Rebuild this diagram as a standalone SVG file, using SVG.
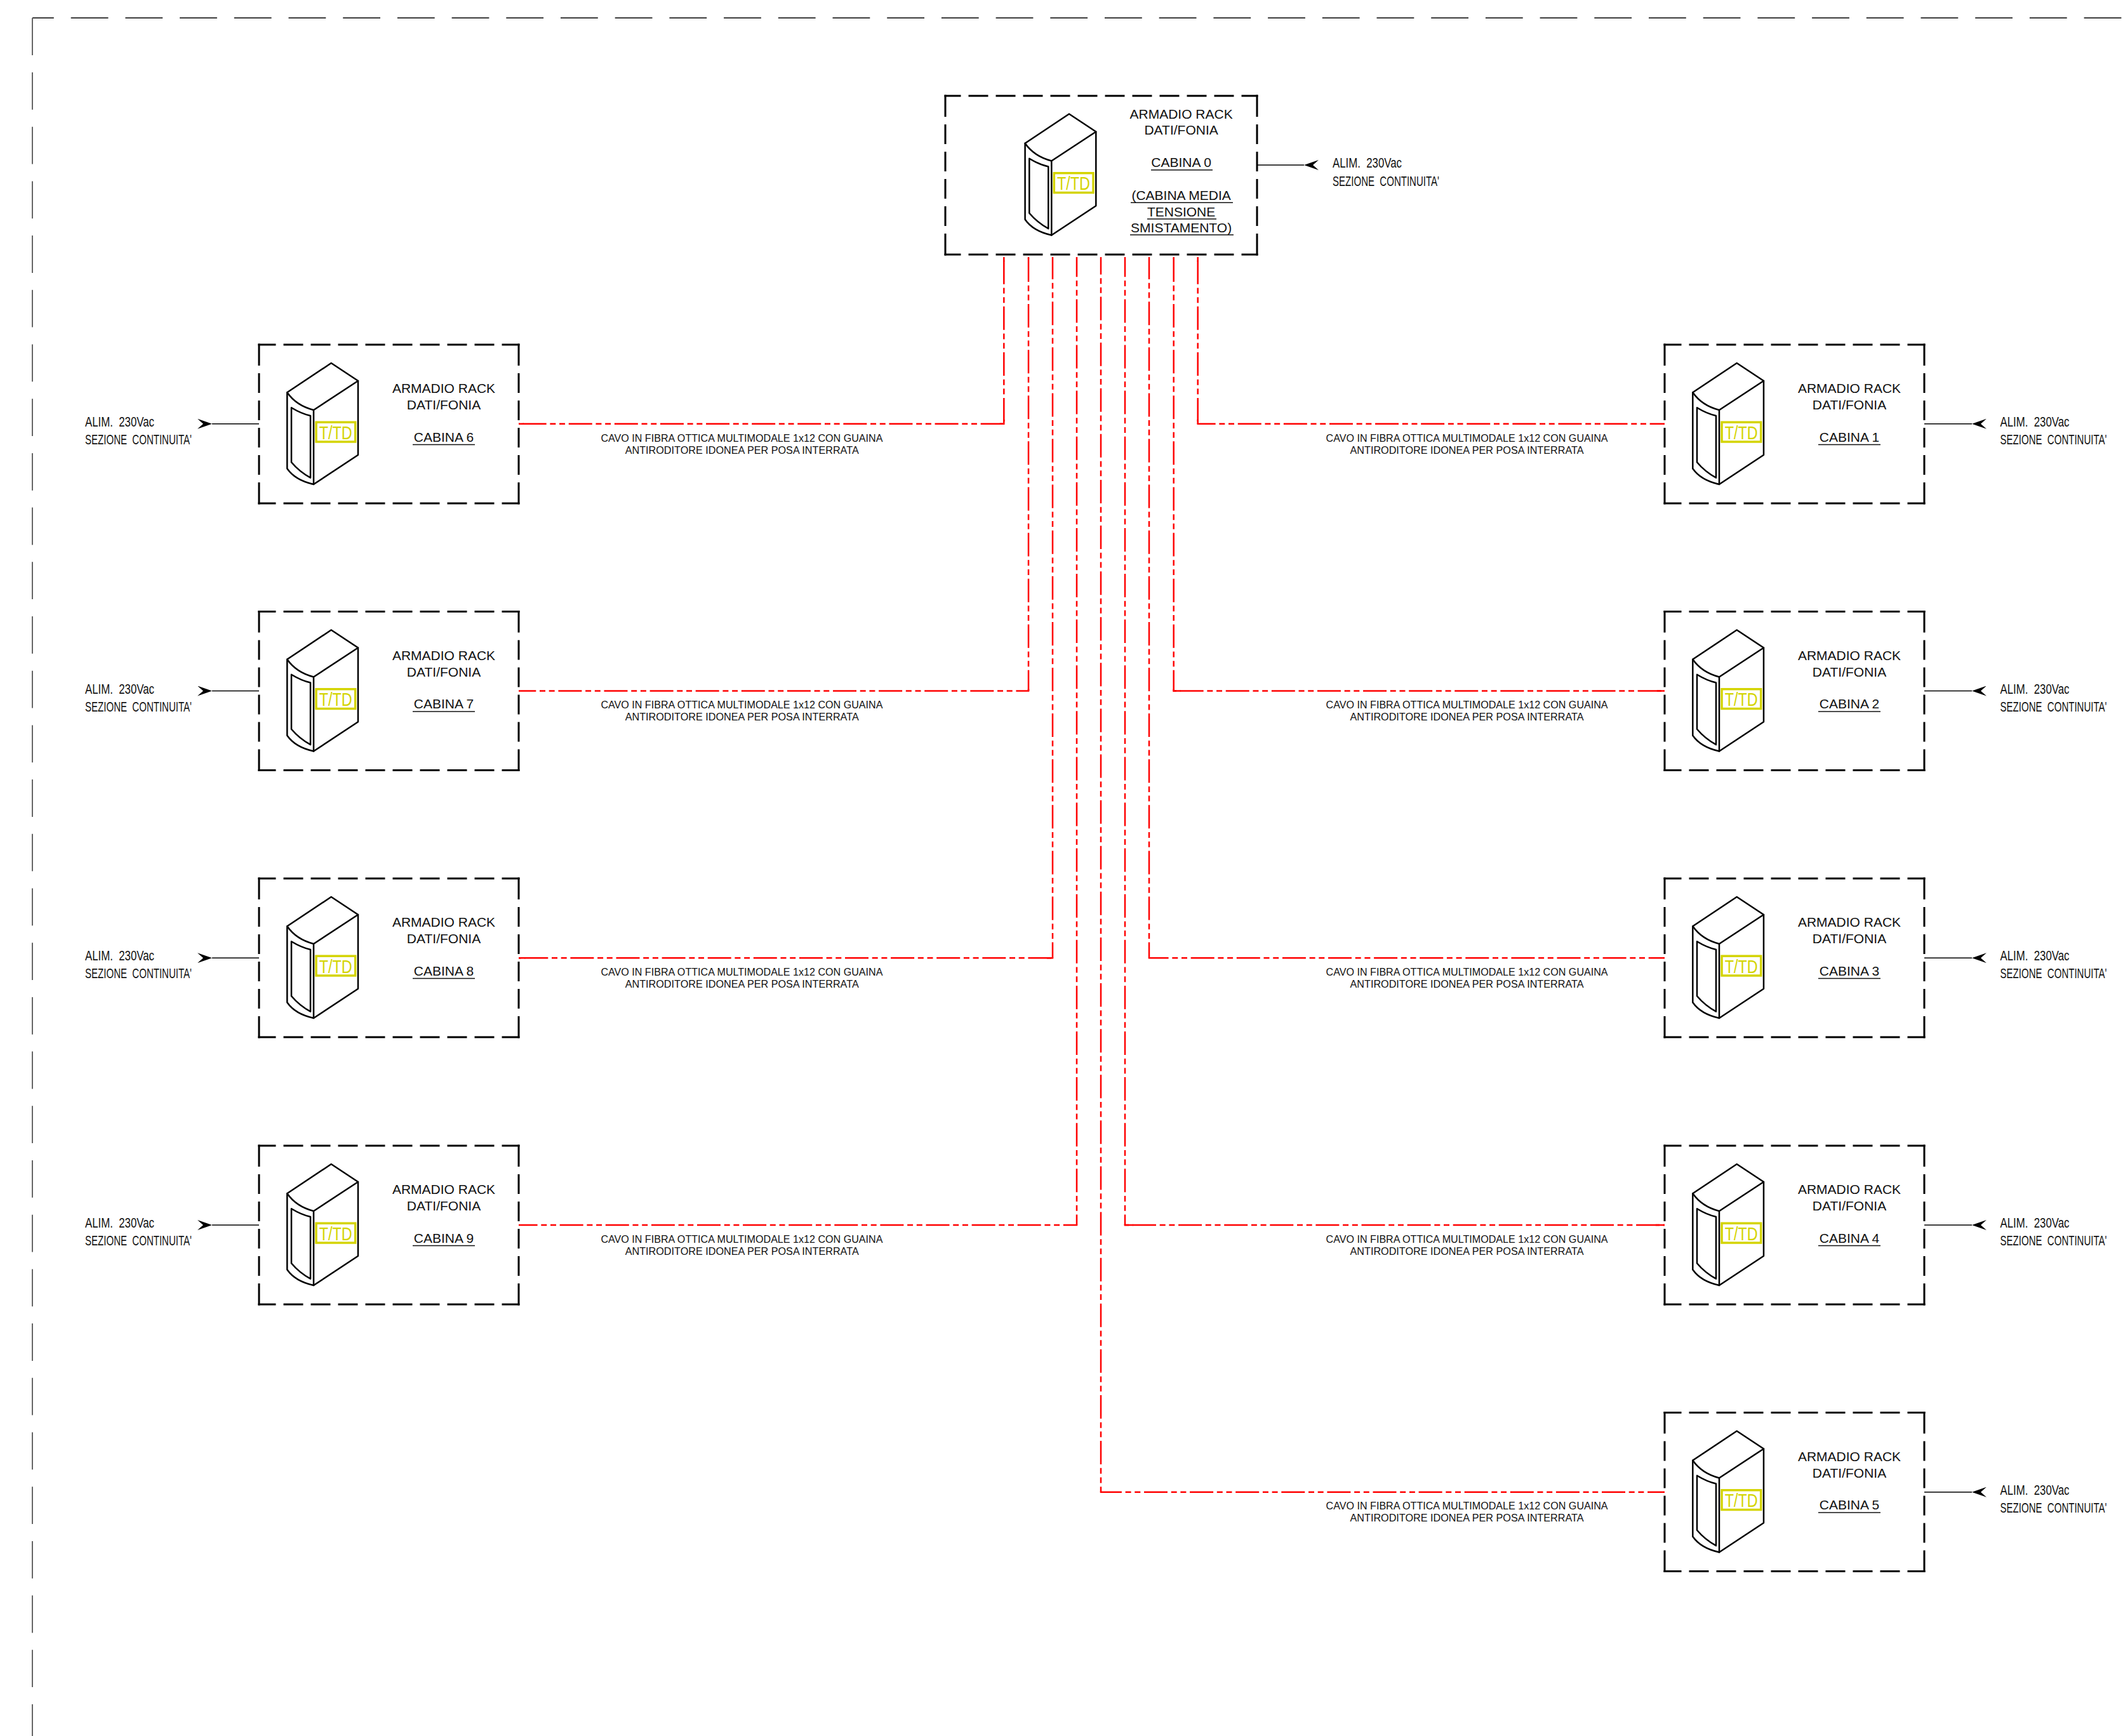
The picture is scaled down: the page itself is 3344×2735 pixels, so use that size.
<svg xmlns="http://www.w3.org/2000/svg" width="3344" height="2735" viewBox="0 0 3344 2735">
<style>
text{font-family:"Liberation Sans",Arial,sans-serif;fill:#111}
.lb{font-size:21px;text-anchor:middle}
.cad{font-family:"Liberation Sans Narrow","Liberation Sans",Arial,sans-serif;font-size:22px;word-spacing:6px}
.cable{font-size:16px}
.td{font-family:"Liberation Sans Narrow","Liberation Sans",Arial,sans-serif;font-size:30px;fill:#d4d400}
.ul{stroke:#111;stroke-width:1.5;fill:none}
.r{fill:none;stroke:#000;stroke-width:2.5;stroke-linejoin:round;stroke-linecap:round}
.dh{fill:none;stroke:#000;stroke-width:3;stroke-dasharray:28 12 31 12 31 12 31 12 31 12 31 12 31 12 31 12 31 12 28}
.dc{fill:none;stroke:#000;stroke-width:3;stroke-dasharray:26 12 31 12 31 12 31 12 31 12 31 12 31 12 31 12 31 12 31 12 31 12 26}
.dv{fill:none;stroke:#000;stroke-width:3;stroke-dasharray:34.5 12 31 12 31 12 31 12 31 12 34.5}
.fb{fill:none;stroke:#f00;stroke-width:2.5;stroke-dasharray:37 5.7 9 5.7 9 5.7}
.st{fill:none;stroke:#f00;stroke-width:2.5}
.pw{fill:none;stroke:#000;stroke-width:1.5;marker-start:url(#barb)}
</style>
<defs>
<marker id="barb" markerUnits="userSpaceOnUse" viewBox="0 0 24 16" refX="23" refY="8" markerWidth="24" markerHeight="16" orient="auto">
<path d="M23 8L0 0L9 8L0 16Z" fill="#000"/>
</marker>
<g id="rack">
<path class="r" d="M44.3 75.3L113.7 29L156 57L156 173.7L86 220Q57 213.7 44.3 195.3Z"/>
<path class="r" d="M44.3 75.3Q58.7 96 86 103L156 57M86 103V220"/>
<path class="r" d="M51 99.3Q67 109 81 112V209.7Q63.7 200.3 51 185.3Z"/>
<rect x="90" y="122.2" width="61.7" height="30.8" fill="none" stroke="#d4d400" stroke-width="3.5"/>
</g>
<path id="box" d="M-1.5 0H410.5M-1.5 250H410.5" class="dh"/>
<path id="boxv" d="M0 -1.5V251.5M409 -1.5V251.5" class="dv"/>
</defs>
<rect width="3344" height="2735" fill="#fff"/>

<g id="border">
<path d="M51 28.3H3344" fill="none" stroke="#000" stroke-width="1.5" stroke-dasharray="58.8 26.9" stroke-dashoffset="25"/>
<path d="M51 28.3V2735" fill="none" stroke="#666" stroke-width="2" stroke-dasharray="58.8 26.9"/>
</g>

<g id="connectors">
<g id="fibre-vertical">
<path class="fb" stroke-dashoffset="-5.75" d="M1581.3 405V667.7"/>
<path class="fb" stroke-dashoffset="-1.95" d="M1620 405V1088.5"/>
<path class="fb" stroke-dashoffset="1.9" d="M1658 405V1509.2"/>
<path class="fb" stroke-dashoffset="5.7" d="M1696 405V1930"/>
<path class="fb" stroke-dashoffset="9.55" d="M1734 405V2350.7"/>
<path class="fb" stroke-dashoffset="5.7" d="M1772 405V1930"/>
<path class="fb" stroke-dashoffset="1.9" d="M1810 405V1509.2"/>
<path class="fb" stroke-dashoffset="-1.95" d="M1848.7 405V1088.5"/>
<path class="fb" stroke-dashoffset="-5.75" d="M1886.7 405V667.7"/>
</g>
<g id="fibre-horizontal">
<path class="fb" stroke-dashoffset="-6.65" d="M817 667.7H1582.5"/>
<path class="fb" stroke-dashoffset="9.7" d="M817 1088.5H1621.2"/>
<path class="fb" stroke-dashoffset="-9.3" d="M817 1509.2H1659.2"/>
<path class="fb" stroke-dashoffset="7.4" d="M817 1930H1697.2"/>
<path class="fb" stroke-dashoffset="7.85" d="M1885.5 667.7H2622"/>
<path class="fb" stroke-dashoffset="-11.15" d="M1847.5 1088.5H2622"/>
<path class="fb" stroke-dashoffset="5.2" d="M1808.8 1509.2H2622"/>
<path class="fb" stroke-dashoffset="-13.2" d="M1770.8 1930H2622"/>
<path class="fb" stroke-dashoffset="2.9" d="M1732.8 2350.7H2622"/>
</g>
<path id="fibre-ends" class="st" d="M817 667.7h7.7M1582.5 667.7h-7.7M817 1509.2h10.3M1659.2 1509.2h-10.3M1847.5 1088.5h12.2M2622 1088.5h-12.2M1770.8 1930h14.2M2622 1930h-14.2M1581.3 405v6.8M1581.3 667.7v-6.8M1886.7 405v6.8M1886.7 667.7v-6.8M1620 405v3M1620 1088.5v-3M1848.7 405v3M1848.7 1088.5v-3"/>
<g id="power">
<path class="pw" d="M2054 260H1980"/>
<path class="pw" d="M334 667.7H408"/>
<path class="pw" d="M334 1088.5H408"/>
<path class="pw" d="M334 1509.2H408"/>
<path class="pw" d="M334 1930H408"/>
<path class="pw" d="M3106 667.7H3031"/>
<path class="pw" d="M3106 1088.5H3031"/>
<path class="pw" d="M3106 1509.2H3031"/>
<path class="pw" d="M3106 1930H3031"/>
<path class="pw" d="M3106 2350.7H3031"/>
</g>
<g id="cable-labels">
<text class="cable" x="946.4" y="695.5" textLength="444" lengthAdjust="spacingAndGlyphs">CAVO IN FIBRA OTTICA MULTIMODALE 1x12 CON GUAINA</text>
<text class="cable" x="984.7" y="714.8" textLength="368" lengthAdjust="spacingAndGlyphs">ANTIRODITORE IDONEA PER POSA INTERRATA</text>
<text class="cable" x="946.4" y="1116" textLength="444" lengthAdjust="spacingAndGlyphs">CAVO IN FIBRA OTTICA MULTIMODALE 1x12 CON GUAINA</text>
<text class="cable" x="984.7" y="1135.3" textLength="368" lengthAdjust="spacingAndGlyphs">ANTIRODITORE IDONEA PER POSA INTERRATA</text>
<text class="cable" x="946.4" y="1536.7" textLength="444" lengthAdjust="spacingAndGlyphs">CAVO IN FIBRA OTTICA MULTIMODALE 1x12 CON GUAINA</text>
<text class="cable" x="984.7" y="1556" textLength="368" lengthAdjust="spacingAndGlyphs">ANTIRODITORE IDONEA PER POSA INTERRATA</text>
<text class="cable" x="946.4" y="1957.5" textLength="444" lengthAdjust="spacingAndGlyphs">CAVO IN FIBRA OTTICA MULTIMODALE 1x12 CON GUAINA</text>
<text class="cable" x="984.7" y="1976.8" textLength="368" lengthAdjust="spacingAndGlyphs">ANTIRODITORE IDONEA PER POSA INTERRATA</text>
<text class="cable" x="2088.6" y="695.5" textLength="444" lengthAdjust="spacingAndGlyphs">CAVO IN FIBRA OTTICA MULTIMODALE 1x12 CON GUAINA</text>
<text class="cable" x="2126.5" y="714.8" textLength="368" lengthAdjust="spacingAndGlyphs">ANTIRODITORE IDONEA PER POSA INTERRATA</text>
<text class="cable" x="2088.6" y="1116" textLength="444" lengthAdjust="spacingAndGlyphs">CAVO IN FIBRA OTTICA MULTIMODALE 1x12 CON GUAINA</text>
<text class="cable" x="2126.5" y="1135.3" textLength="368" lengthAdjust="spacingAndGlyphs">ANTIRODITORE IDONEA PER POSA INTERRATA</text>
<text class="cable" x="2088.6" y="1536.7" textLength="444" lengthAdjust="spacingAndGlyphs">CAVO IN FIBRA OTTICA MULTIMODALE 1x12 CON GUAINA</text>
<text class="cable" x="2126.5" y="1556" textLength="368" lengthAdjust="spacingAndGlyphs">ANTIRODITORE IDONEA PER POSA INTERRATA</text>
<text class="cable" x="2088.6" y="1957.5" textLength="444" lengthAdjust="spacingAndGlyphs">CAVO IN FIBRA OTTICA MULTIMODALE 1x12 CON GUAINA</text>
<text class="cable" x="2126.5" y="1976.8" textLength="368" lengthAdjust="spacingAndGlyphs">ANTIRODITORE IDONEA PER POSA INTERRATA</text>
<text class="cable" x="2088.6" y="2378" textLength="444" lengthAdjust="spacingAndGlyphs">CAVO IN FIBRA OTTICA MULTIMODALE 1x12 CON GUAINA</text>
<text class="cable" x="2126.5" y="2397.3" textLength="368" lengthAdjust="spacingAndGlyphs">ANTIRODITORE IDONEA PER POSA INTERRATA</text>
</g>
</g>

<g id="cabina0" transform="translate(1489,150.5)">
<path class="dc" d="M-1.5 0.5H492.5M-1.5 250.5H492.5"/>
<path class="dv" d="M0 -1V252M491 -1V252"/>
<use href="#rack" x="81.3" y="0"/>
<text class="td" x="176" y="148.7" textLength="52" lengthAdjust="spacingAndGlyphs">T/TD</text>
<text class="lb" x="371.6" y="36.2">ARMADIO RACK</text>
<text class="lb" x="371.6" y="61.8">DATI/FONIA</text>
<text class="lb" x="371.6" y="112.8">CABINA 0</text>
<path class="ul" d="M324 117.2H421"/>
<text class="lb" x="371.6" y="164.5">(CABINA MEDIA</text>
<path class="ul" d="M292 168.8H453"/>
<text class="lb" x="371.6" y="190.2">TENSIONE</text>
<path class="ul" d="M318 194.5H427"/>
<text class="lb" x="371.6" y="215.5">SMISTAMENTO)</text>
<path class="ul" d="M291 219.5H454"/>
<text class="cad" x="610" y="113.5" textLength="109" lengthAdjust="spacingAndGlyphs">ALIM. 230Vac</text>
<text class="cad" x="610" y="142.2" textLength="168" lengthAdjust="spacingAndGlyphs">SEZIONE CONTINUITA'</text>
</g>

<g id="cabina1" transform="translate(2622,543)">
<use href="#box"/><use href="#boxv"/><use href="#rack"/>
<text class="td" x="94.7" y="148.7" textLength="52" lengthAdjust="spacingAndGlyphs">T/TD</text>
<text class="lb" x="291" y="76">ARMADIO RACK</text>
<text class="lb" x="291" y="102">DATI/FONIA</text>
<text class="lb" x="291" y="152.5">CABINA 1</text>
<path class="ul" d="M242 157.5H340"/>
<text class="cad" x="528.5" y="129" textLength="109" lengthAdjust="spacingAndGlyphs">ALIM. 230Vac</text>
<text class="cad" x="528.5" y="157" textLength="168" lengthAdjust="spacingAndGlyphs">SEZIONE CONTINUITA'</text>
</g>
<g id="cabina2" transform="translate(2622,963.5)">
<use href="#box"/><use href="#boxv"/><use href="#rack"/>
<text class="td" x="94.7" y="148.7" textLength="52" lengthAdjust="spacingAndGlyphs">T/TD</text>
<text class="lb" x="291" y="76">ARMADIO RACK</text>
<text class="lb" x="291" y="102">DATI/FONIA</text>
<text class="lb" x="291" y="152.5">CABINA 2</text>
<path class="ul" d="M242 157.5H340"/>
<text class="cad" x="528.5" y="129" textLength="109" lengthAdjust="spacingAndGlyphs">ALIM. 230Vac</text>
<text class="cad" x="528.5" y="157" textLength="168" lengthAdjust="spacingAndGlyphs">SEZIONE CONTINUITA'</text>
</g>
<g id="cabina3" transform="translate(2622,1384)">
<use href="#box"/><use href="#boxv"/><use href="#rack"/>
<text class="td" x="94.7" y="148.7" textLength="52" lengthAdjust="spacingAndGlyphs">T/TD</text>
<text class="lb" x="291" y="76">ARMADIO RACK</text>
<text class="lb" x="291" y="102">DATI/FONIA</text>
<text class="lb" x="291" y="152.5">CABINA 3</text>
<path class="ul" d="M242 157.5H340"/>
<text class="cad" x="528.5" y="129" textLength="109" lengthAdjust="spacingAndGlyphs">ALIM. 230Vac</text>
<text class="cad" x="528.5" y="157" textLength="168" lengthAdjust="spacingAndGlyphs">SEZIONE CONTINUITA'</text>
</g>
<g id="cabina4" transform="translate(2622,1805)">
<use href="#box"/><use href="#boxv"/><use href="#rack"/>
<text class="td" x="94.7" y="148.7" textLength="52" lengthAdjust="spacingAndGlyphs">T/TD</text>
<text class="lb" x="291" y="76">ARMADIO RACK</text>
<text class="lb" x="291" y="102">DATI/FONIA</text>
<text class="lb" x="291" y="152.5">CABINA 4</text>
<path class="ul" d="M242 157.5H340"/>
<text class="cad" x="528.5" y="129" textLength="109" lengthAdjust="spacingAndGlyphs">ALIM. 230Vac</text>
<text class="cad" x="528.5" y="157" textLength="168" lengthAdjust="spacingAndGlyphs">SEZIONE CONTINUITA'</text>
</g>
<g id="cabina5" transform="translate(2622,2225.5)">
<use href="#box"/><use href="#boxv"/><use href="#rack"/>
<text class="td" x="94.7" y="148.7" textLength="52" lengthAdjust="spacingAndGlyphs">T/TD</text>
<text class="lb" x="291" y="76">ARMADIO RACK</text>
<text class="lb" x="291" y="102">DATI/FONIA</text>
<text class="lb" x="291" y="152.5">CABINA 5</text>
<path class="ul" d="M242 157.5H340"/>
<text class="cad" x="528.5" y="129" textLength="109" lengthAdjust="spacingAndGlyphs">ALIM. 230Vac</text>
<text class="cad" x="528.5" y="157" textLength="168" lengthAdjust="spacingAndGlyphs">SEZIONE CONTINUITA'</text>
</g>
<g id="cabina6" transform="translate(408,543)">
<use href="#box"/><use href="#boxv"/><use href="#rack"/>
<text class="td" x="94.7" y="148.7" textLength="52" lengthAdjust="spacingAndGlyphs">T/TD</text>
<text class="lb" x="291" y="76">ARMADIO RACK</text>
<text class="lb" x="291" y="102">DATI/FONIA</text>
<text class="lb" x="291" y="152.5">CABINA 6</text>
<path class="ul" d="M242 157.5H340"/>
<text class="cad" x="-274" y="129" textLength="109" lengthAdjust="spacingAndGlyphs">ALIM. 230Vac</text>
<text class="cad" x="-274" y="157" textLength="168" lengthAdjust="spacingAndGlyphs">SEZIONE CONTINUITA'</text>
</g>
<g id="cabina7" transform="translate(408,963.5)">
<use href="#box"/><use href="#boxv"/><use href="#rack"/>
<text class="td" x="94.7" y="148.7" textLength="52" lengthAdjust="spacingAndGlyphs">T/TD</text>
<text class="lb" x="291" y="76">ARMADIO RACK</text>
<text class="lb" x="291" y="102">DATI/FONIA</text>
<text class="lb" x="291" y="152.5">CABINA 7</text>
<path class="ul" d="M242 157.5H340"/>
<text class="cad" x="-274" y="129" textLength="109" lengthAdjust="spacingAndGlyphs">ALIM. 230Vac</text>
<text class="cad" x="-274" y="157" textLength="168" lengthAdjust="spacingAndGlyphs">SEZIONE CONTINUITA'</text>
</g>
<g id="cabina8" transform="translate(408,1384)">
<use href="#box"/><use href="#boxv"/><use href="#rack"/>
<text class="td" x="94.7" y="148.7" textLength="52" lengthAdjust="spacingAndGlyphs">T/TD</text>
<text class="lb" x="291" y="76">ARMADIO RACK</text>
<text class="lb" x="291" y="102">DATI/FONIA</text>
<text class="lb" x="291" y="152.5">CABINA 8</text>
<path class="ul" d="M242 157.5H340"/>
<text class="cad" x="-274" y="129" textLength="109" lengthAdjust="spacingAndGlyphs">ALIM. 230Vac</text>
<text class="cad" x="-274" y="157" textLength="168" lengthAdjust="spacingAndGlyphs">SEZIONE CONTINUITA'</text>
</g>
<g id="cabina9" transform="translate(408,1805)">
<use href="#box"/><use href="#boxv"/><use href="#rack"/>
<text class="td" x="94.7" y="148.7" textLength="52" lengthAdjust="spacingAndGlyphs">T/TD</text>
<text class="lb" x="291" y="76">ARMADIO RACK</text>
<text class="lb" x="291" y="102">DATI/FONIA</text>
<text class="lb" x="291" y="152.5">CABINA 9</text>
<path class="ul" d="M242 157.5H340"/>
<text class="cad" x="-274" y="129" textLength="109" lengthAdjust="spacingAndGlyphs">ALIM. 230Vac</text>
<text class="cad" x="-274" y="157" textLength="168" lengthAdjust="spacingAndGlyphs">SEZIONE CONTINUITA'</text>
</g>
</svg>
